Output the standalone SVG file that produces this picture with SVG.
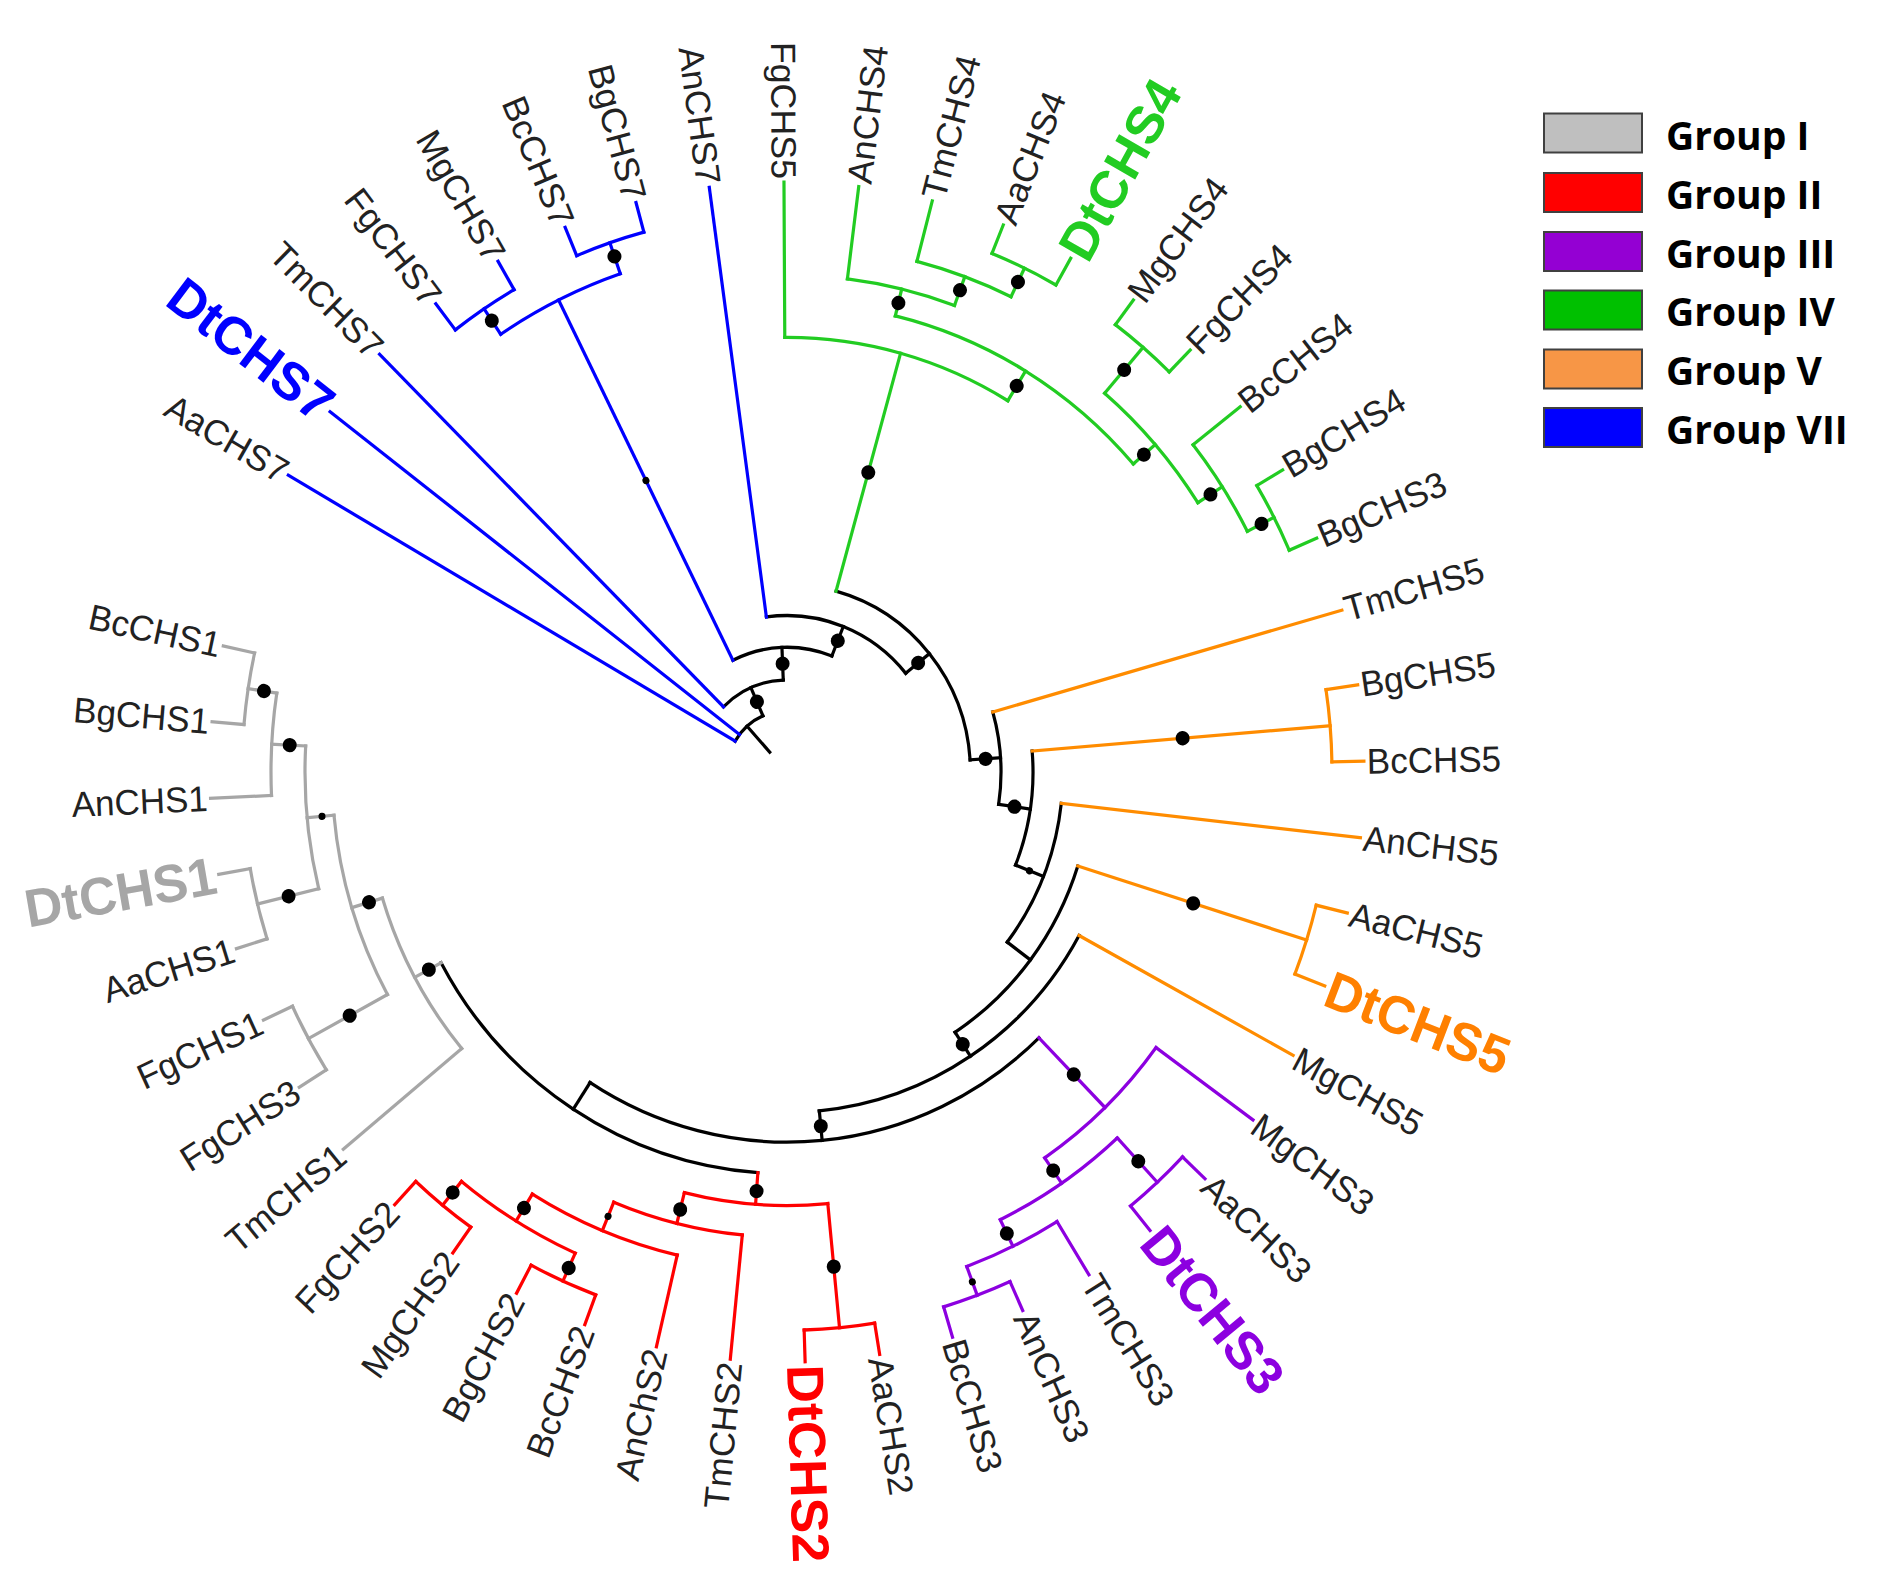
<svg xmlns="http://www.w3.org/2000/svg" width="1883" height="1581" viewBox="0 0 1883 1581">
<style>
.c line,.c circle{fill:none;stroke-width:3.2;stroke-linecap:square}
.k{stroke:#000}.bl{stroke:#0000ff}.gn{stroke:#22cc22}.or{stroke:#ff8c00}.pu{stroke:#8c00e0}.rd{stroke:#ff0000}.gy{stroke:#a6a6a6}
.d circle{fill:#000;stroke:none}
.t{font-family:"Liberation Sans",Arial,Helvetica,sans-serif;font-size:35px;fill:#222}
.r{text-anchor:start}.l{text-anchor:end}
.dt{font-weight:bold;font-size:52px}
.lg text{font-family:"Open Sans",Lato,sans-serif;font-weight:bold;font-size:39px;fill:#000}
.lg rect{stroke:#404040;stroke-width:2}
</style>
<rect width="1883" height="1581" fill="#fff"/>
<g id="tree" transform="translate(787,772) scale(1,1.0225)">
<g id="connectors" class="c">
<g class="k">
<line x1="26" x2="60" transform="rotate(228.3)"/>
<line x1="60" x2="90" transform="rotate(246.35)"/>
<line x1="90" x2="122" transform="rotate(267.62)"/>
<line x1="122" x2="153" transform="rotate(291.58)"/>
<line x1="153" x2="183.5" transform="rotate(320.89)"/>
<line x1="183.5" x2="214" transform="rotate(356.28)"/>
<line x1="214" x2="246" transform="rotate(8.48)"/>
<line x1="246" x2="276" transform="rotate(21.73)"/>
<line x1="276" x2="305" transform="rotate(37.06)"/>
<line x1="305" x2="333" transform="rotate(56.57)"/>
<line x1="333" x2="362" transform="rotate(84.43)"/>
<line x1="362" x2="393" transform="rotate(122.95)"/>
<circle r="60" stroke-dasharray="37.86 9999" transform="rotate(210.2)"/>
<circle r="90" stroke-dasharray="66.82 9999" transform="rotate(225.08)"/>
<circle r="122" stroke-dasharray="102.02 9999" transform="rotate(243.67)"/>
<circle r="153" stroke-dasharray="156.56 9999" transform="rotate(262.26)"/>
<circle r="183.5" stroke-dasharray="226.69 9999" transform="rotate(285.5)"/>
<circle r="214" stroke-dasharray="91.13 9999" transform="rotate(344.08)"/>
<circle r="246" stroke-dasharray="113.78 9999" transform="rotate(355.23)"/>
<circle r="276" stroke-dasharray="147.74 9999" transform="rotate(6.39)"/>
<circle r="305" stroke-dasharray="207.71 9999" transform="rotate(17.55)"/>
<circle r="333" stroke-dasharray="323.9 9999" transform="rotate(28.7)"/>
<circle r="362" stroke-dasharray="486.81 9999" transform="rotate(45.9)"/>
<circle r="393" stroke-dasharray="393.71 9999" transform="rotate(94.25)"/>
</g>
<g class="bl">
<line x1="60" x2="577" transform="rotate(210.2)"/>
<line x1="60" x2="577" transform="rotate(217.64)"/>
<line x1="90" x2="577" transform="rotate(225.08)"/>
<line x1="122" x2="515" transform="rotate(243.67)"/>
<line x1="515" x2="545" transform="rotate(236.23)"/>
<line x1="545" x2="577" transform="rotate(232.51)"/>
<line x1="545" x2="577" transform="rotate(239.95)"/>
<line x1="515" x2="547" transform="rotate(251.11)"/>
<line x1="547" x2="577" transform="rotate(247.39)"/>
<line x1="547" x2="577" transform="rotate(254.83)"/>
<line x1="153" x2="577" transform="rotate(262.26)"/>
<circle r="515" stroke-dasharray="133.75 9999" transform="rotate(236.23)"/>
<circle r="545" stroke-dasharray="70.77 9999" transform="rotate(232.51)"/>
<circle r="547" stroke-dasharray="71.03 9999" transform="rotate(247.39)"/>
</g>
<g class="gn">
<line x1="183.5" x2="425" transform="rotate(285.5)"/>
<line x1="425" x2="577" transform="rotate(269.7)"/>
<line x1="425" x2="459" transform="rotate(301.31)"/>
<line x1="459" x2="486" transform="rotate(283.65)"/>
<line x1="486" x2="577" transform="rotate(277.14)"/>
<line x1="486" x2="516" transform="rotate(290.16)"/>
<line x1="516" x2="577" transform="rotate(284.58)"/>
<line x1="516" x2="547" transform="rotate(295.73)"/>
<line x1="547" x2="577" transform="rotate(292.01)"/>
<line x1="547" x2="577" transform="rotate(299.45)"/>
<line x1="459" x2="488" transform="rotate(318.98)"/>
<line x1="488" x2="547" transform="rotate(310.61)"/>
<line x1="547" x2="577" transform="rotate(306.89)"/>
<line x1="547" x2="577" transform="rotate(314.33)"/>
<line x1="488" x2="517" transform="rotate(327.34)"/>
<line x1="517" x2="577" transform="rotate(321.76)"/>
<line x1="517" x2="547" transform="rotate(332.92)"/>
<line x1="547" x2="577" transform="rotate(329.2)"/>
<line x1="547" x2="577" transform="rotate(336.64)"/>
<circle r="425" stroke-dasharray="234.47 9999" transform="rotate(269.7)"/>
<circle r="459" stroke-dasharray="283.03 9999" transform="rotate(283.65)"/>
<circle r="486" stroke-dasharray="110.44 9999" transform="rotate(277.14)"/>
<circle r="516" stroke-dasharray="100.42 9999" transform="rotate(284.58)"/>
<circle r="547" stroke-dasharray="71.03 9999" transform="rotate(292.01)"/>
<circle r="488" stroke-dasharray="142.49 9999" transform="rotate(310.61)"/>
<circle r="547" stroke-dasharray="71.03 9999" transform="rotate(306.89)"/>
<circle r="517" stroke-dasharray="100.7 9999" transform="rotate(321.76)"/>
<circle r="547" stroke-dasharray="71.03 9999" transform="rotate(329.2)"/>
</g>
<g class="or">
<line x1="214" x2="577" transform="rotate(344.08)"/>
<line x1="246" x2="545" transform="rotate(355.23)"/>
<line x1="545" x2="577" transform="rotate(351.51)"/>
<line x1="545" x2="577" transform="rotate(358.95)"/>
<line x1="276" x2="577" transform="rotate(6.39)"/>
<line x1="305" x2="545" transform="rotate(17.55)"/>
<line x1="545" x2="577" transform="rotate(13.83)"/>
<line x1="545" x2="577" transform="rotate(21.26)"/>
<line x1="333" x2="577" transform="rotate(28.7)"/>
<circle r="545" stroke-dasharray="70.77 9999" transform="rotate(351.51)"/>
<circle r="545" stroke-dasharray="70.77 9999" transform="rotate(13.83)"/>
</g>
<g class="pu">
<line x1="362" x2="457" transform="rotate(45.9)"/>
<line x1="457" x2="577" transform="rotate(36.14)"/>
<line x1="457" x2="487" transform="rotate(55.67)"/>
<line x1="487" x2="546" transform="rotate(47.3)"/>
<line x1="546" x2="577" transform="rotate(43.58)"/>
<line x1="546" x2="577" transform="rotate(51.01)"/>
<line x1="487" x2="516" transform="rotate(64.03)"/>
<line x1="516" x2="577" transform="rotate(58.45)"/>
<line x1="516" x2="546" transform="rotate(69.61)"/>
<line x1="546" x2="577" transform="rotate(65.89)"/>
<line x1="546" x2="577" transform="rotate(73.33)"/>
<circle r="457" stroke-dasharray="155.77 9999" transform="rotate(36.14)"/>
<circle r="487" stroke-dasharray="142.2 9999" transform="rotate(47.3)"/>
<circle r="546" stroke-dasharray="70.8 9999" transform="rotate(43.58)"/>
<circle r="516" stroke-dasharray="100.51 9999" transform="rotate(58.45)"/>
<circle r="546" stroke-dasharray="70.9 9999" transform="rotate(65.89)"/>
</g>
<g class="rd">
<line x1="393" x2="424" transform="rotate(94.25)"/>
<line x1="424" x2="546" transform="rotate(84.48)"/>
<line x1="546" x2="577" transform="rotate(80.76)"/>
<line x1="546" x2="577" transform="rotate(88.2)"/>
<line x1="424" x2="455" transform="rotate(104.01)"/>
<line x1="455" x2="577" transform="rotate(95.64)"/>
<line x1="455" x2="485" transform="rotate(112.38)"/>
<line x1="485" x2="577" transform="rotate(103.08)"/>
<line x1="485" x2="516" transform="rotate(121.67)"/>
<line x1="516" x2="546" transform="rotate(114.23)"/>
<line x1="546" x2="577" transform="rotate(110.51)"/>
<line x1="546" x2="577" transform="rotate(117.95)"/>
<line x1="516" x2="546" transform="rotate(129.11)"/>
<line x1="546" x2="577" transform="rotate(125.39)"/>
<line x1="546" x2="577" transform="rotate(132.83)"/>
<circle r="424" stroke-dasharray="144.53 9999" transform="rotate(84.48)"/>
<circle r="546" stroke-dasharray="70.9 9999" transform="rotate(80.76)"/>
<circle r="455" stroke-dasharray="132.94 9999" transform="rotate(95.64)"/>
<circle r="485" stroke-dasharray="157.36 9999" transform="rotate(103.08)"/>
<circle r="516" stroke-dasharray="134.01 9999" transform="rotate(114.23)"/>
<circle r="546" stroke-dasharray="70.9 9999" transform="rotate(110.51)"/>
<circle r="546" stroke-dasharray="70.9 9999" transform="rotate(125.39)"/>
</g>
<g class="gy">
<line x1="393" x2="423" transform="rotate(151.65)"/>
<line x1="423" x2="577" transform="rotate(140.26)"/>
<line x1="423" x2="455" transform="rotate(163.05)"/>
<line x1="455" x2="545" transform="rotate(151.42)"/>
<line x1="545" x2="577" transform="rotate(147.7)"/>
<line x1="545" x2="577" transform="rotate(155.14)"/>
<line x1="455" x2="482" transform="rotate(174.67)"/>
<line x1="482" x2="545" transform="rotate(166.3)"/>
<line x1="545" x2="577" transform="rotate(162.58)"/>
<line x1="545" x2="577" transform="rotate(170.01)"/>
<line x1="482" x2="516" transform="rotate(183.03)"/>
<line x1="516" x2="577" transform="rotate(177.45)"/>
<line x1="516" x2="545" transform="rotate(188.61)"/>
<line x1="545" x2="577" transform="rotate(184.89)"/>
<line x1="545" x2="577" transform="rotate(192.33)"/>
<circle r="423" stroke-dasharray="168.25 9999" transform="rotate(140.26)"/>
<circle r="455" stroke-dasharray="184.63 9999" transform="rotate(151.42)"/>
<circle r="545" stroke-dasharray="70.77 9999" transform="rotate(147.7)"/>
<circle r="482" stroke-dasharray="140.74 9999" transform="rotate(166.3)"/>
<circle r="545" stroke-dasharray="70.77 9999" transform="rotate(162.58)"/>
<circle r="516" stroke-dasharray="100.51 9999" transform="rotate(177.45)"/>
<circle r="545" stroke-dasharray="70.77 9999" transform="rotate(184.89)"/>
</g>
</g>
<g id="support-dots" class="d">
<circle cx="75" r="7" transform="rotate(246.35)"/>
<circle cx="106" r="7" transform="rotate(267.62)"/>
<circle cx="138" r="7" transform="rotate(291.58)"/>
<circle cx="169" r="7" transform="rotate(320.89)"/>
<circle cx="199" r="7" transform="rotate(356.28)"/>
<circle cx="230" r="7" transform="rotate(8.48)"/>
<circle cx="261" r="3.5" transform="rotate(21.73)"/>
<circle cx="319" r="7" transform="rotate(56.57)"/>
<circle cx="348" r="7" transform="rotate(84.43)"/>
<circle cx="318" r="3.5" transform="rotate(243.67)"/>
<circle cx="531" r="7" transform="rotate(236.23)"/>
<circle cx="533" r="7" transform="rotate(251.11)"/>
<circle cx="304" r="7" transform="rotate(285.5)"/>
<circle cx="442" r="7" transform="rotate(301.31)"/>
<circle cx="472" r="7" transform="rotate(283.65)"/>
<circle cx="502" r="7" transform="rotate(290.16)"/>
<circle cx="532" r="7" transform="rotate(295.73)"/>
<circle cx="473" r="7" transform="rotate(318.98)"/>
<circle cx="518" r="7" transform="rotate(310.61)"/>
<circle cx="503" r="7" transform="rotate(327.34)"/>
<circle cx="533" r="7" transform="rotate(332.92)"/>
<circle cx="397" r="7" transform="rotate(355.23)"/>
<circle cx="426" r="7" transform="rotate(17.55)"/>
<circle cx="412" r="7" transform="rotate(45.9)"/>
<circle cx="472" r="7" transform="rotate(55.67)"/>
<circle cx="518" r="7" transform="rotate(47.3)"/>
<circle cx="502" r="7" transform="rotate(64.03)"/>
<circle cx="532" r="3.5" transform="rotate(69.61)"/>
<circle cx="411" r="7" transform="rotate(94.25)"/>
<circle cx="486" r="7" transform="rotate(84.48)"/>
<circle cx="441" r="7" transform="rotate(104.01)"/>
<circle cx="470" r="3.5" transform="rotate(112.38)"/>
<circle cx="501" r="7" transform="rotate(121.67)"/>
<circle cx="532" r="7" transform="rotate(114.23)"/>
<circle cx="530" r="7" transform="rotate(129.11)"/>
<circle cx="407" r="7" transform="rotate(151.65)"/>
<circle cx="437" r="7" transform="rotate(163.05)"/>
<circle cx="498" r="7" transform="rotate(151.42)"/>
<circle cx="467" r="3.5" transform="rotate(174.67)"/>
<circle cx="513" r="7" transform="rotate(166.3)"/>
<circle cx="498" r="7" transform="rotate(183.03)"/>
<circle cx="529" r="7" transform="rotate(188.61)"/>
</g>
<g id="leaves">
<g id="AaCHS7"><text class="t l" x="-580" dy="0.35em" transform="rotate(30.2)">AaCHS7</text></g>
<g id="DtCHS7"><text class="t l dt" x="-580" dy="0.35em" transform="rotate(37.64)" style="fill:#0000ff">DtCHS7</text></g>
<g id="TmCHS7"><text class="t l" x="-580" dy="0.35em" transform="rotate(45.08)">TmCHS7</text></g>
<g id="FgCHS7"><text class="t l" x="-580" dy="0.35em" transform="rotate(52.51)">FgCHS7</text></g>
<g id="MgCHS7"><text class="t l" x="-580" dy="0.35em" transform="rotate(59.95)">MgCHS7</text></g>
<g id="BcCHS7"><text class="t l" x="-580" dy="0.35em" transform="rotate(67.39)">BcCHS7</text></g>
<g id="BgCHS7"><text class="t l" x="-580" dy="0.35em" transform="rotate(74.83)">BgCHS7</text></g>
<g id="AnCHS7"><text class="t l" x="-580" dy="0.35em" transform="rotate(82.26)">AnCHS7</text></g>
<g id="FgCHS5"><text class="t l" x="-580" dy="0.35em" transform="rotate(89.7)">FgCHS5</text></g>
<g id="AnCHS4"><text class="t r" x="580" dy="0.35em" transform="rotate(-82.86)">AnCHS4</text></g>
<g id="TmCHS4"><text class="t r" x="580" dy="0.35em" transform="rotate(-75.42)">TmCHS4</text></g>
<g id="AaCHS4"><text class="t r" x="580" dy="0.35em" transform="rotate(-67.99)">AaCHS4</text></g>
<g id="DtCHS4"><text class="t r dt" x="580" dy="0.35em" transform="rotate(-60.55)" style="fill:#22cc22">DtCHS4</text></g>
<g id="MgCHS4"><text class="t r" x="580" dy="0.35em" transform="rotate(-53.11)">MgCHS4</text></g>
<g id="FgCHS4"><text class="t r" x="580" dy="0.35em" transform="rotate(-45.67)">FgCHS4</text></g>
<g id="BcCHS4"><text class="t r" x="580" dy="0.35em" transform="rotate(-38.24)">BcCHS4</text></g>
<g id="BgCHS4"><text class="t r" x="580" dy="0.35em" transform="rotate(-30.8)">BgCHS4</text></g>
<g id="BgCHS3"><text class="t r" x="580" dy="0.35em" transform="rotate(-23.36)">BgCHS3</text></g>
<g id="TmCHS5"><text class="t r" x="580" dy="0.35em" transform="rotate(-15.92)">TmCHS5</text></g>
<g id="BgCHS5"><text class="t r" x="580" dy="0.35em" transform="rotate(-8.49)">BgCHS5</text></g>
<g id="BcCHS5"><text class="t r" x="580" dy="0.35em" transform="rotate(-1.05)">BcCHS5</text></g>
<g id="AnCHS5"><text class="t r" x="580" dy="0.35em" transform="rotate(6.39)">AnCHS5</text></g>
<g id="AaCHS5"><text class="t r" x="580" dy="0.35em" transform="rotate(13.83)">AaCHS5</text></g>
<g id="DtCHS5"><text class="t r dt" x="580" dy="0.35em" transform="rotate(21.26)" style="fill:#ff8000">DtCHS5</text></g>
<g id="MgCHS5"><text class="t r" x="580" dy="0.35em" transform="rotate(28.7)">MgCHS5</text></g>
<g id="MgCHS3"><text class="t r" x="580" dy="0.35em" transform="rotate(36.14)">MgCHS3</text></g>
<g id="AaCHS3"><text class="t r" x="580" dy="0.35em" transform="rotate(43.58)">AaCHS3</text></g>
<g id="DtCHS3"><text class="t r dt" x="580" dy="0.35em" transform="rotate(51.01)" style="fill:#8c00e0">DtCHS3</text></g>
<g id="TmCHS3"><text class="t r" x="580" dy="0.35em" transform="rotate(58.45)">TmCHS3</text></g>
<g id="AnCHS3"><text class="t r" x="580" dy="0.35em" transform="rotate(65.89)">AnCHS3</text></g>
<g id="BcCHS3"><text class="t r" x="580" dy="0.35em" transform="rotate(73.33)">BcCHS3</text></g>
<g id="AaCHS2"><text class="t r" x="580" dy="0.35em" transform="rotate(80.76)">AaCHS2</text></g>
<g id="DtCHS2"><text class="t r dt" x="580" dy="0.35em" transform="rotate(88.2)" style="fill:#ff0000">DtCHS2</text></g>
<g id="TmCHS2"><text class="t l" x="-580" dy="0.35em" transform="rotate(-84.36)">TmCHS2</text></g>
<g id="AnChS2"><text class="t l" x="-580" dy="0.35em" transform="rotate(-76.92)">AnChS2</text></g>
<g id="BcCHS2"><text class="t l" x="-580" dy="0.35em" transform="rotate(-69.49)">BcCHS2</text></g>
<g id="BgCHS2"><text class="t l" x="-580" dy="0.35em" transform="rotate(-62.05)">BgCHS2</text></g>
<g id="MgCHS2"><text class="t l" x="-580" dy="0.35em" transform="rotate(-54.61)">MgCHS2</text></g>
<g id="FgCHS2"><text class="t l" x="-580" dy="0.35em" transform="rotate(-47.17)">FgCHS2</text></g>
<g id="TmCHS1"><text class="t l" x="-580" dy="0.35em" transform="rotate(-39.74)">TmCHS1</text></g>
<g id="FgCHS3"><text class="t l" x="-580" dy="0.35em" transform="rotate(-32.3)">FgCHS3</text></g>
<g id="FgCHS1"><text class="t l" x="-580" dy="0.35em" transform="rotate(-24.86)">FgCHS1</text></g>
<g id="AaCHS1"><text class="t l" x="-580" dy="0.35em" transform="rotate(-17.42)">AaCHS1</text></g>
<g id="DtCHS1"><text class="t l dt" x="-580" dy="0.35em" transform="rotate(-9.99)" style="fill:#a6a6a6">DtCHS1</text></g>
<g id="AnCHS1"><text class="t l" x="-580" dy="0.35em" transform="rotate(-2.55)">AnCHS1</text></g>
<g id="BgCHS1"><text class="t l" x="-580" dy="0.35em" transform="rotate(4.89)">BgCHS1</text></g>
<g id="BcCHS1"><text class="t l" x="-580" dy="0.35em" transform="rotate(12.33)">BcCHS1</text></g>
</g>
</g>
<g id="legend" class="lg">
<g id="legend-I"><rect x="1544" y="113.5" width="98" height="39" fill="#bfbfbf"/><text x="1666" y="150">Group I</text></g>
<g id="legend-II"><rect x="1544" y="173" width="98" height="39" fill="#ff0000"/><text x="1666" y="208.5">Group II</text></g>
<g id="legend-III"><rect x="1544" y="232" width="98" height="39" fill="#9400d3"/><text x="1666" y="267.5">Group III</text></g>
<g id="legend-IV"><rect x="1544" y="290.5" width="98" height="39" fill="#00c000"/><text x="1666" y="325.5">Group IV</text></g>
<g id="legend-V"><rect x="1544" y="349.5" width="98" height="39" fill="#f79646"/><text x="1666" y="385">Group V</text></g>
<g id="legend-VII"><rect x="1544" y="408" width="98" height="39" fill="#0000ff"/><text x="1666" y="443.5">Group VII</text></g>
</g>
</svg>
